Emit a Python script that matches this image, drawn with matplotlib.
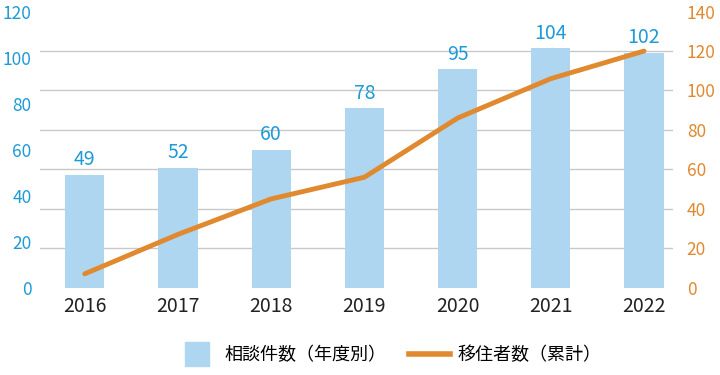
import matplotlib.pyplot as plt
from matplotlib.lines import Line2D

plt.rcParams['font.family'] = ['Noto Sans CJK JP', 'DejaVu Sans']

years = ['2016', '2017', '2018', '2019', '2020', '2021', '2022']
consultations = [49, 52, 60, 78, 95, 104, 102]
migrants_cum = [7, 27, 45, 56, 86, 106, 120]

blue_bar = '#aed6f1'
blue_txt = '#1e9bd7'
orange = '#e0892e'

fig = plt.figure(figsize=(7.2, 3.75), dpi=100)
ax = fig.add_axes([0.0556, 0.233, 0.879, 0.736])
ax2 = ax.twinx()

x = list(range(len(years)))
ax.bar(x, consultations, width=0.42, color=blue_bar, zorder=2)
for xi, v in zip(x, consultations):
    ax.text(xi, v + 2, str(v), ha='center', va='bottom', color=blue_txt, fontsize=14)

ax2.plot(x, migrants_cum, color=orange, lw=3.5, solid_capstyle='round', zorder=3)

ax.set_xlim(-0.48, 6.31)
ax.set_ylim(0, 120)
ax2.set_ylim(0, 140)
ax.set_yticks(range(0, 121, 20))
ax2.set_yticks(range(0, 141, 20))
# gridlines follow the right axis ticks
ax.set_yticks([v * 120 / 140 for v in range(0, 141, 20)], minor=True)
ax.grid(axis='y', which='minor', color='#c8c8c8', lw=1, zorder=0)
ax.set_axisbelow(True)
ax.set_xticks(x)
ax.set_xticklabels(years, fontsize=14, color='#222222')

ax.tick_params(axis='y', which='both', length=0)
ax.tick_params(axis='y', colors=blue_txt, labelsize=12.5, pad=6)
ax2.tick_params(axis='y', colors=orange, labelsize=12.5, length=0, pad=10)
ax.tick_params(axis='x', length=0, pad=6)

for a in (ax, ax2):
    for s in a.spines.values():
        s.set_visible(False)

handles = [Line2D([0], [0], marker='s', linestyle='None', markersize=17,
                  markerfacecolor=blue_bar, markeredgecolor=blue_bar,
                  label='相談件数（年度別）'),
           Line2D([0], [0], color=orange, lw=4, label='移住者数（累計）')]
fig.legend(handles=handles, loc='center', bbox_to_anchor=(0.54, 0.053), ncol=2,
           frameon=False, fontsize=13, handlelength=2.3, columnspacing=1.2,
           handletextpad=0.4)

fig.savefig('out.png', dpi=100)
